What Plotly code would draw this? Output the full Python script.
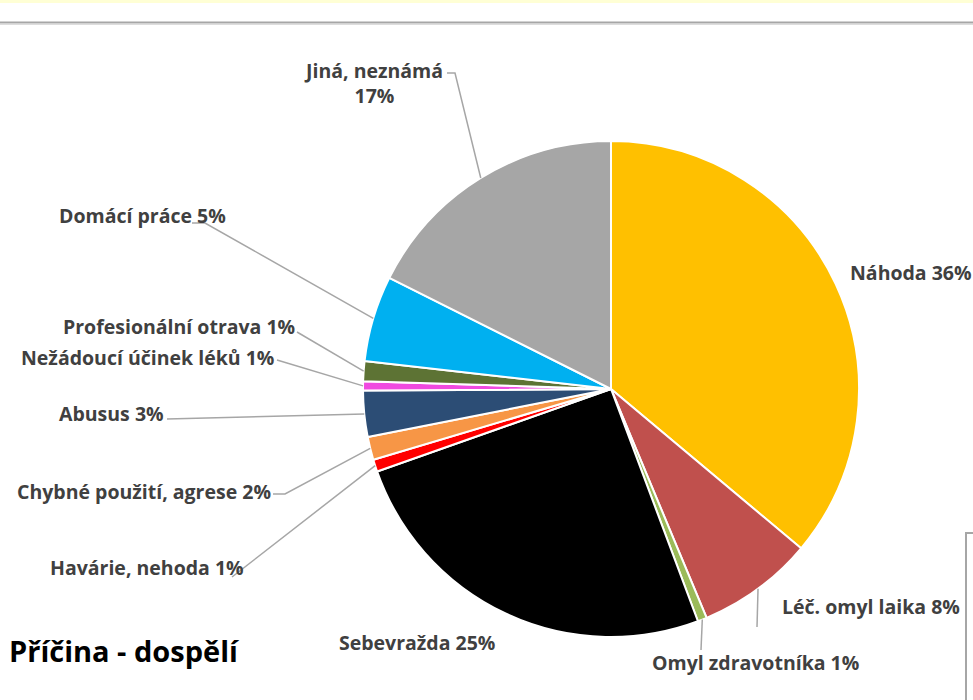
import math
import plotly.graph_objects as go

# --------------------------
# DATA
# --------------------------
categories = ["Náhoda", "Léč. omyl laika", "Omyl zdravotníka", "Sebevražda",
              "Havárie, nehoda", "Chybné použití, agrese", "Abusus",
              "Nežádoucí účinek léků", "Profesionální otrava", "Domácí práce",
              "Jiná, neznámá"]
values = [36.1, 7.6, 0.6, 25.3, 0.8, 1.5, 3.0, 0.6, 1.3, 5.6, 17.6]
shown_pct = ["36%", "8%", "1%", "25%", "1%", "2%", "3%", "1%", "1%", "5%", "17%"]
colors = ["#FFC000", "#C0504D", "#9BBB59", "#000000", "#FF0000", "#F79646",
          "#2C4D75", "#F04AE0", "#5D7334", "#00B0F0", "#A6A6A6"]
title_text = "Příčina - dospělí"

# --------------------------
# LAYOUT (pixels)
# --------------------------
W, H = 973, 700
cx, cy, R = 611, 389, 248
FONT = "Open Sans"

# label: (x, y, anchor), leader line knee points (None = no line)
label_pos = [
    (848, 272, "left", None),
    (780, 606, "left", [(757, 627)]),
    (650, 662, "left", [(701, 650)]),
    (337, 642, "left", None),
    (246, 567, "right", [(232, 577)]),
    (273, 491, "right", [(285, 494), (273, 494)]),
    (166, 413, "right", [(167, 419)]),
    (276, 357, "right", [(277, 360)]),
    (297, 326, "right", [(297, 332)]),
    (228, 216, "right", [(205, 223), (192, 223)]),
    (373, 83, "center", [(455, 73), (447, 73)]),
]


def px(x):
    return x / W


def py(y):
    return 1 - y / H


fig = go.Figure(go.Pie(
    labels=categories,
    values=values,
    sort=False,
    direction="clockwise",
    rotation=0,
    marker=dict(colors=colors, line=dict(color="white", width=2)),
    textinfo="none",
    hoverinfo="label+percent",
    domain=dict(x=[px(cx - R), px(cx + R)], y=[py(cy + R), py(cy - R)]),
    showlegend=False,
))

shapes = []
annotations = []
total = sum(values)
cum = 0
for i, v in enumerate(values):
    mid = (cum + v / 2) / total * 2 * math.pi
    cum += v
    ex = cx + R * math.sin(mid)
    ey = cy - R * math.cos(mid)
    lx, ly, anchor, knees = label_pos[i]
    if knees:
        pts = [(ex, ey)] + knees
        path = "M " + " L ".join(f"{px(a)},{py(b)}" for a, b in pts)
        shapes.append(dict(type="path", xref="paper", yref="paper", path=path,
                           line=dict(color="#A6A6A6", width=1.5)))
    if i == len(values) - 1:
        txt = f"{categories[i]}<br>{shown_pct[i]}"
    else:
        txt = f"{categories[i]} {shown_pct[i]}"
    annotations.append(dict(
        x=px(lx), y=py(ly), xref="paper", yref="paper", text=txt,
        showarrow=False, xanchor=anchor, yanchor="middle", align="center",
        font=dict(family=FONT, size=19.5, color="#404040", weight="bold"),
    ))

annotations.append(dict(
    x=px(7), y=py(650), xref="paper", yref="paper", text=title_text,
    showarrow=False, xanchor="left", yanchor="middle",
    font=dict(family=FONT, size=29, color="#000000", weight="bold"),
))

# frame decorations
shapes += [
    dict(type="rect", xref="paper", yref="paper", x0=0, x1=1, y0=py(3), y1=1,
         fillcolor="#FFFFD5", line=dict(width=0)),
    dict(type="line", xref="paper", yref="paper", x0=0, x1=1, y0=py(22.5), y1=py(22.5),
         line=dict(color="#A6A6A6", width=2)),
    dict(type="line", xref="paper", yref="paper", x0=0, x1=1, y0=py(24.5), y1=py(24.5),
         line=dict(color="#DDDDDD", width=1)),
    dict(type="path", xref="paper", yref="paper",
         path=f"M {px(973)},{py(533)} L {px(966)},{py(533)} L {px(966)},{py(700)}",
         line=dict(color="#A6A6A6", width=2)),
]

fig.update_layout(
    width=W, height=H,
    margin=dict(l=0, r=0, t=0, b=0),
    paper_bgcolor="white",
    plot_bgcolor="white",
    shapes=shapes,
    annotations=annotations,
)

fig.write_html("out.html", config={"displayModeBar": False},
               post_script="document.body.style.margin='0';")
